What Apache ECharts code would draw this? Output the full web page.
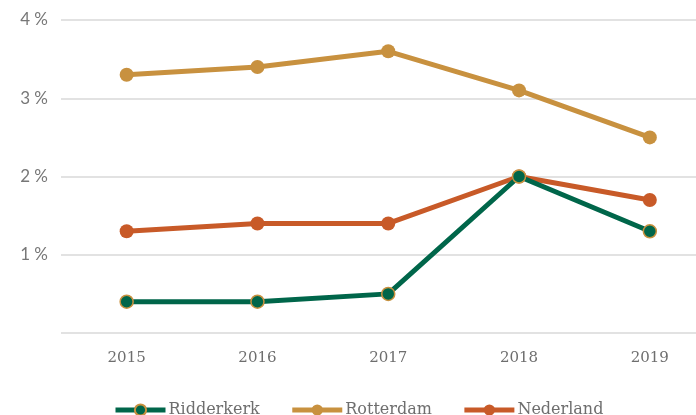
<!DOCTYPE html>
<html>
<head>
<meta charset="utf-8">
<script src="https://cdn.jsdelivr.net/npm/echarts@6/dist/echarts.min.js"></script>
<style>
  html, body { margin: 0; padding: 0; background: #fff; }
  #main { width: 696px; height: 415px; }
</style>
</head>
<body>
<div id="main"></div>
<script>
const years = ['2015', '2016', '2017', '2018', '2019'];
const ridderkerk = [0.4, 0.4, 0.5, 2.0, 1.3];
const rotterdam = [3.3, 3.4, 3.6, 3.1, 2.5];
const nederland = [1.3, 1.4, 1.4, 2.0, 1.7];

const serif = '"DejaVu Serif", "Liberation Serif", serif';

const chart = echarts.init(document.getElementById('main'));

// year index on a value axis, so the plot can run past the right edge
const toPoints = arr => arr.map((v, i) => [i, v]);

const mkSeries = (name, data, color, extra) => Object.assign({
  name: name,
  type: 'line',
  data: toPoints(data),
  symbol: 'circle',
  symbolSize: 14,
  lineStyle: { width: 5, color: color },
  itemStyle: { color: color },
  emphasis: { disabled: true }
}, extra || {});

chart.setOption({
  animation: false,
  grid: { left: 61, right: 0, top: 20, bottom: 82 },
  legend: {
    top: 397,
    left: 108,
    itemWidth: 50,
    itemHeight: 14,
    itemGap: 30,
    lineStyle: { width: 5 },
    textStyle: { fontFamily: serif, fontSize: 16, color: '#6e6e6e', padding: [0, 0, 0, -2] },
    data: ['Ridderkerk', 'Rotterdam', 'Nederland']
  },
  xAxis: {
    type: 'value',
    min: -0.502,
    max: 4.353,
    axisLine: { show: false },
    axisTick: { show: false },
    splitLine: { show: false },
    axisLabel: {
      margin: 18,
      fontFamily: serif,
      fontSize: 15,
      color: '#6e6e6e',
      customValues: [0, 1, 2, 3, 4],
      formatter: v => years[Math.round(v)]
    }
  },
  yAxis: {
    type: 'value',
    min: 0,
    max: 4,
    interval: 1,
    axisLine: { show: false },
    axisTick: { show: false },
    axisLabel: {
      margin: 13,
      fontFamily: 'Lato, "Open Sans", sans-serif',
      fontSize: 17,
      color: '#777',
      formatter: v => v === 0 ? '' : v + ' %'
    },
    splitLine: { lineStyle: { color: '#d9d9d9', width: 1.5 } }
  },
  series: [
    mkSeries('Ridderkerk', ridderkerk, '#00664a', {
      symbolSize: 13,
      itemStyle: { color: '#00664a', borderColor: '#c8913f', borderWidth: 1.5 },
      z: 4
    }),
    mkSeries('Rotterdam', rotterdam, '#c8913f', { z: 2 }),
    mkSeries('Nederland', nederland, '#c85a28', { z: 3 })
  ]
});
</script>
</body>
</html>
